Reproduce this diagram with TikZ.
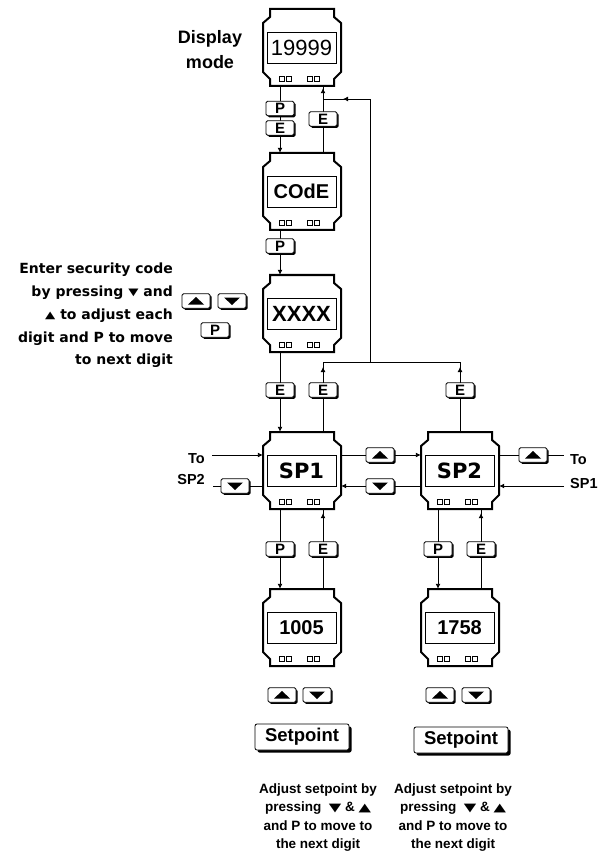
\documentclass[tikz,border=0pt]{standalone}
\usepackage{fontspec}
\setmainfont{Liberation Sans}
\newfontfamily\dvs{DejaVu Sans}
\usetikzlibrary{arrows.meta,calc,shadows,backgrounds}
\newcommand\fs[2]{\fontsize{#1}{#2}\selectfont}
\newcommand\tridown{{\dvs\raisebox{0.05em}{\scalebox{0.95}[0.72]{▼}}}}
\newcommand\triup{{\dvs\raisebox{0.05em}{\scalebox{0.95}[0.72]{▲}}}}
\newcommand\bigtridown{{\dvs\raisebox{0.05em}{\scalebox{1.2}[0.85]{▼}}}}
\newcommand\bigtriup{{\dvs\raisebox{0.05em}{\scalebox{1.2}[0.85]{▲}}}}

\tikzset{
  conn/.style={line width=0.9pt},
  arr/.style={conn, -{Latex[length=5pt,width=5pt]}},
  basekey/.style={draw, line width=0.8pt, fill=white, rounded corners=1.5pt, inner sep=0pt},
  key/.style={basekey, minimum width=28pt, minimum height=14.5pt, font=\fs{15}{15}\bfseries,
    drop shadow={shadow xshift=1.6pt, shadow yshift=-1.6pt, opacity=1, fill=black}},
  bigkey/.style={basekey, minimum width=94pt, minimum height=26pt, font=\fs{18.5}{18.5}\bfseries,
    rounded corners=2pt, drop shadow={shadow xshift=2.5pt, shadow yshift=-2.5pt, opacity=1, fill=black}},
  meterbox/.style={minimum width=78pt, minimum height=77pt, inner sep=0pt},
  window/.style={draw, line width=0.8pt, minimum width=69pt, minimum height=31pt, inner sep=0pt},
  frame/.style={line width=2pt},
  dot/.style={line width=0.7pt},
  lbl/.style={inner sep=0pt, font=\fs{14.5}{14.5}\bfseries},
  note/.style={font=\fs{13.5}{18.4}\bfseries, align=center},
}

\newcommand\meter[5]{%
  \node[meterbox] (#1) at (#2,#3+38.5) {};
  \begin{scope}[shift={(#1.center)}]
    \draw[frame] (-32,-38.5) -- (32,-38.5) -- (32,-30.5) -- (39,-24.5) -- (39,24.5) -- (32,31.5)
      -- (32,38.5) -- (-32,38.5) -- (-32,31.5) -- (-39,24.5) -- (-39,-24.5) -- (-32,-30.5) -- cycle;
    \node[window, font=#5] (#1w) at (-0.5,0) {#4};
    \foreach \dx in {-22.5,-15.5,5.5,12.5} \draw[dot] (\dx,28.5) rectangle ++(5,5);
  \end{scope}}

\newcommand\upkey[3]{%
  \node[key] (#1) at (#2,#3) {};
  \fill ($(#1.center)+(-8,3.5)$) -- ($(#1.center)+(8,3.5)$) -- ($(#1.center)+(0,-4)$) -- cycle;}
\newcommand\downkey[3]{%
  \node[key] (#1) at (#2,#3) {};
  \fill ($(#1.center)+(-8,-3.5)$) -- ($(#1.center)+(8,-3.5)$) -- ($(#1.center)+(0,4)$) -- cycle;}

\begin{document}
\begin{tikzpicture}[x=1pt,y=-1pt]
\useasboundingbox (0,0) rectangle (602,866);

% meters
\meter{d1}{302}{9}{19999}{\fs{22}{22}}
\meter{code}{302}{153}{COdE}{\fs{20}{20}\bfseries}
\meter{xxxx}{302}{275}{XXXX}{\fs{22}{22}\bfseries}
\meter{sp1}{302}{432}{SP1}{\fs{21}{21}\bfseries\dvs}
\meter{sp2}{460}{432}{SP2}{\fs{21}{21}\bfseries\dvs}
\meter{v1}{302}{589}{1005}{\fs{20}{20}\bfseries}
\meter{v2}{460}{589}{1758}{\fs{20}{20}\bfseries}

% keys
\node[key] (pA) at (280,108.5) {P};
\node[key] (eA) at (280,128) {E};
\node[key] (eB) at (323,119) {E};
\node[key] (pB) at (280,246) {P};
\node[key] (eC) at (280,390) {E};
\node[key] (eD) at (323,390) {E};
\node[key] (eE) at (460,390) {E};
\node[key] (pF) at (280,549) {P};
\node[key] (eF) at (323,549) {E};
\node[key] (pG) at (438,549) {P};
\node[key] (eG) at (481,549) {E};
\upkey{uX}{196}{301}
\downkey{dX}{232}{301}
\node[key] (pX) at (215,330) {P};
\upkey{uM}{380}{455}
\downkey{dM}{380}{486}
\downkey{dL}{235}{486}
\upkey{uR}{533}{455}
\upkey{u1}{282}{695}
\downkey{w1}{317}{695}
\upkey{u2}{440}{695}
\downkey{w2}{476}{695}
\node[bigkey] (s1) at (302,737) {Setpoint};
\node[bigkey] (s2) at (461,740) {Setpoint};

% labels
\node[font=\fs{18}{25}\bfseries, align=center] (dm) at (210,49.5) {Display\\mode};
\node[font=\fs{14}{22.8}\bfseries\dvs, align=right, anchor=east, inner sep=0pt] (sec) at (173,315.5)
  {Enter security code\\by pressing \tridown{} and\\\triup{} to adjust each\\digit and P to move\\to next digit};
\node[lbl, anchor=east] (toLt) at (205,459) {To};
\node[lbl, anchor=east] (toLs) at (205,480) {SP2};
\node[lbl, anchor=west] (toRt) at (570,460) {To};
\node[lbl, anchor=west] (toRs) at (570,484) {SP1};
\node[note] (adj1) at (318,817.5)
  {Adjust setpoint by\\pressing \ \bigtridown{} \& \bigtriup\\and P to move to\\the next digit};
\node[note] (adj2) at (453,817.5)
  {Adjust setpoint by\\pressing \ \bigtridown{} \& \bigtriup\\and P to move to\\the next digit};

% connectors
\begin{scope}[on background layer]
\fill[white] (0,0) rectangle (602,866);
\draw[arr] (d1.south -| pA) -- (code.north -| pA);
\draw[conn] (code.north -| eB) -- (d1.south -| eB);
\draw[arr] (code.north -| eB) -- ($(d1.south -| eB)+(0,2)$);
\coordinate (ret) at (370,99);
\coordinate (join) at (370,362);
\draw[conn] (join) -- (ret) -- (ret -| eB);
\draw[arr] (ret) -- ($(ret)+(-27,0)$);
\draw[conn] (join -| eD) -- (join -| eE);
\draw[conn] (sp1.north -| eD) -- (join -| eD);
\draw[arr] (sp1.north -| eD) -- ($(join -| eD)+(0,5)$);
\draw[conn] (sp2.north -| eE) -- (join -| eE);
\draw[arr] (sp2.north -| eE) -- ($(join -| eE)+(0,5)$);
\draw[arr] (code.south -| pB) -- (xxxx.north -| pB);
\draw[arr] (xxxx.south -| eC) -- (sp1.north -| eC);
\draw[arr] (sp1.south -| pF) -- (v1.north -| pF);
\draw[conn] (v1.north -| eF) -- (sp1.south -| eF);
\draw[arr] (v1.north -| eF) -- ($(sp1.south -| eF)+(0,4)$);
\draw[arr] (sp2.south -| pG) -- (v2.north -| pG);
\draw[conn] (v2.north -| eG) -- (sp2.south -| eG);
\draw[arr] (v2.north -| eG) -- ($(sp2.south -| eG)+(0,4)$);
\draw[arr] (sp1.east |- uM) -- (sp2.west |- uM);
\draw[arr] (sp2.west |- dM) -- (sp1.east |- dM);
\coordinate (toL) at (212,455);
\draw[arr] (toL) -- (sp1.west |- toL);
\coordinate (stubL) at (213,486);
\draw[conn] (stubL) -- (sp1.west |- stubL);
\coordinate (toR) at (564,455);
\draw[conn] (sp2.east |- toR) -- (toR);
\coordinate (fromR) at (564,486);
\draw[arr] (fromR) -- (sp2.east |- fromR);
\end{scope}
\end{tikzpicture}
\end{document}
